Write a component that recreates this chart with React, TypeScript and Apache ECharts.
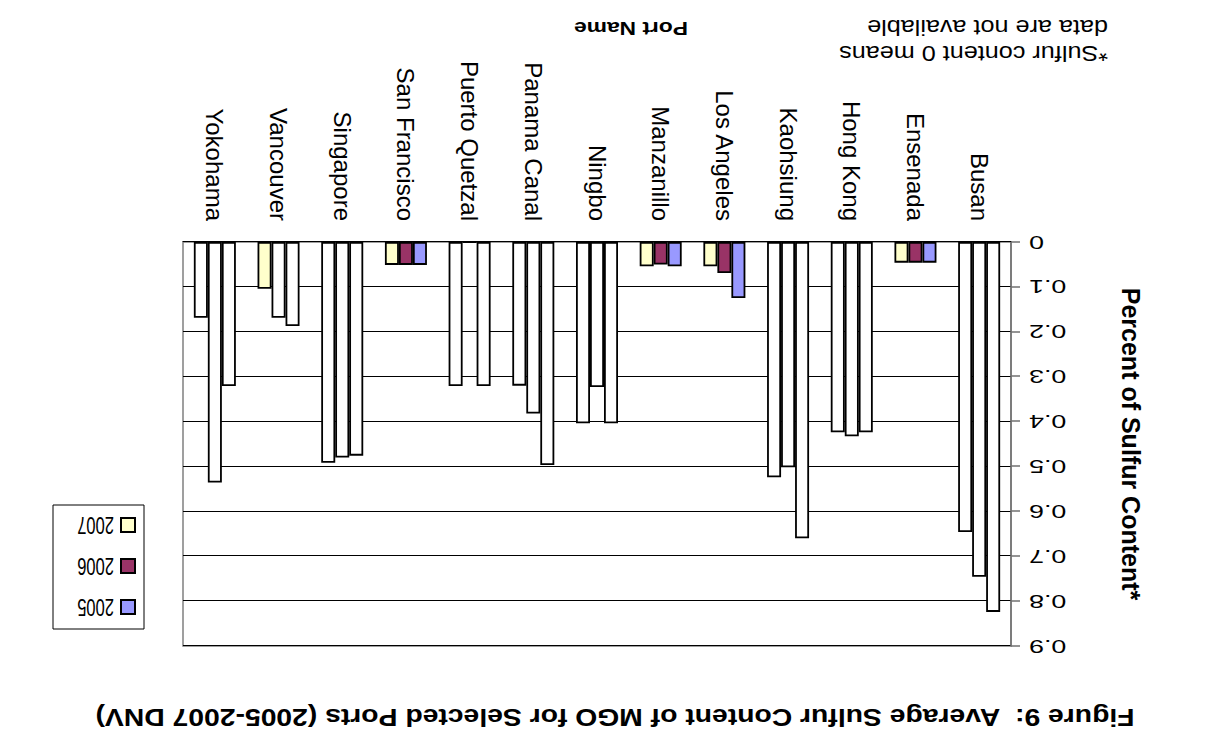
import { useEffect, useRef } from 'react';
import * as echarts from 'echarts';

const ports = ['Busan', 'Ensenada', 'Hong Kong', 'Kaohsiung', 'Los Angeles', 'Manzanillo', 'Ningbo', 'Panama Canal', 'Puerto Quetzal', 'San Francisco', 'Singapore', 'Vancouver', 'Yokohama'];
const sulfur2005 = [0.824, 0.046, 0.424, 0.66, 0.125, 0.054, 0.404, 0.497, 0.321, 0.051, 0.476, 0.187, 0.321];
const sulfur2006 = [0.746, 0.046, 0.433, 0.502, 0.069, 0.05, 0.323, 0.382, 0, 0.051, 0.48, 0.169, 0.536];
const sulfur2007 = [0.646, 0.046, 0.424, 0.524, 0.054, 0.054, 0.404, 0.32, 0.321, 0.051, 0.492, 0.104, 0.169];
const years = ['2005', '2006', '2007'];
const yearColors = ['#9999FF', '#993366', '#FFFFCC'];
const yTicks = [0, 0.1, 0.2, 0.3, 0.4, 0.5, 0.6, 0.7, 0.8, 0.9];
const titleText = 'Figure 9:  Average Sulfur Content of MGO for Selected Ports (2005-2007 DNV)';
const yAxisTitle = 'Percent of Sulfur Content*';
const xAxisTitle = 'Port Name';
const noteLines = ['*Sulfur content 0 means', 'data are not available'];

const FONT = '"Liberation Sans", Arial, sans-serif';

export default function App() {
  const ref = useRef<HTMLDivElement>(null);
  useEffect(() => {
    const chart = echarts.init(ref.current!, null, { renderer: 'svg' });
    const seriesData = [sulfur2005, sulfur2006, sulfur2007];
    chart.setOption({
      animation: false,
      backgroundColor: '#ffffff',
      grid: {
        left: 202, right: 183, top: 98, bottom: 242,
        show: true, borderColor: '#808080', borderWidth: 1.5, backgroundColor: 'transparent',
      },
      xAxis: {
        type: 'category',
        data: ports,
        boundaryGap: true,
        axisLine: { show: true, lineStyle: { color: '#000', width: 1 } },
        axisTick: { show: false },
        axisLabel: {
          interval: 0, rotate: 90, margin: 21, fontSize: 24, color: '#000', fontFamily: FONT,
        },
        splitLine: { show: false },
      },
      yAxis: {
        type: 'value',
        min: 0, max: 0.9, interval: 0.1,
        name: yAxisTitle,
        nameLocation: 'middle',
        nameRotate: 90,
        nameGap: 107,
        nameTextStyle: { fontSize: 25, fontWeight: 'bold', color: '#000', fontFamily: FONT },
        axisLine: { show: true, lineStyle: { color: '#707070', width: 1.5 } },
        axisTick: { show: true, length: 9, lineStyle: { color: '#707070', width: 1.5 } },
        axisLabel: { show: false },
        splitLine: { show: true, lineStyle: { color: '#000', width: 1 } },
      },
      series: years.map((y, si) => ({
        name: y,
        type: 'bar',
        barWidth: 14,
        barGap: '0%',
        data: seriesData[si].map((v) => ({
          value: v,
          itemStyle: { color: v < 0.15 ? yearColors[si] : '#ffffff' },
        })),
        itemStyle: { borderColor: '#000', borderWidth: 1.8 },
      })),
    });

    const elements: any[] = [];
    yTicks.forEach((t) => {
      const py = chart.convertToPixel({ yAxisIndex: 0 }, t) as number;
      elements.push({
        type: 'text', x: 184, y: py, scaleX: 1.45,
        style: {
          text: String(t), fontSize: 18.5, fontFamily: FONT, fill: '#000',
          textAlign: 'right', align: 'right', textVerticalAlign: 'middle', verticalAlign: 'middle',
        },
      });
    });
    elements.push({
      type: 'text', x: 598, y: 27, scaleX: 1.18,
      style: {
        text: titleText, fontSize: 24, fontWeight: 'bold', fontFamily: FONT, fill: '#000',
        textAlign: 'center', align: 'center', textVerticalAlign: 'middle', verticalAlign: 'middle',
      },
    });
    elements.push({
      type: 'text', x: 582, y: 715, scaleX: 1.2,
      style: {
        text: xAxisTitle, fontSize: 19, fontWeight: 'bold', fontFamily: FONT, fill: '#000',
        textAlign: 'center', align: 'center', textVerticalAlign: 'middle', verticalAlign: 'middle',
      },
    });
    noteLines.forEach((line, i) => {
      elements.push({
        type: 'text', x: 105, y: 690 + i * 26, scaleX: 1.12,
        style: {
          text: line, fontSize: 22.5, fontFamily: FONT, fill: '#000',
          textAlign: 'left', align: 'left', textVerticalAlign: 'middle', verticalAlign: 'middle',
        },
      });
    });
    // legend
    elements.push({
      type: 'rect', shape: { x: 1069, y: 115, width: 91, height: 124 },
      style: { fill: '#fff', stroke: '#000', lineWidth: 1 },
    });
    years.forEach((y, i) => {
      const cy = 137 + i * 41;
      elements.push({
        type: 'rect', shape: { x: 1078, y: cy - 7, width: 14, height: 14 },
        style: { fill: yearColors[i], stroke: '#000', lineWidth: 2 },
      });
      elements.push({
        type: 'text', x: 1099, y: cy, scaleX: 0.72,
        style: {
          text: y, fontSize: 23, fontFamily: FONT, fill: '#000',
          textAlign: 'left', align: 'left', textVerticalAlign: 'middle', verticalAlign: 'middle',
        },
      });
    });
    chart.setOption({ graphic: { elements } });
    return () => chart.dispose();
  }, []);
  return (
    <div
      ref={ref}
      style={{ position: 'absolute', left: 0, top: 0, width: 1213, height: 744, transform: 'rotate(180deg)', background: '#fff' }}
    />
  );
}
